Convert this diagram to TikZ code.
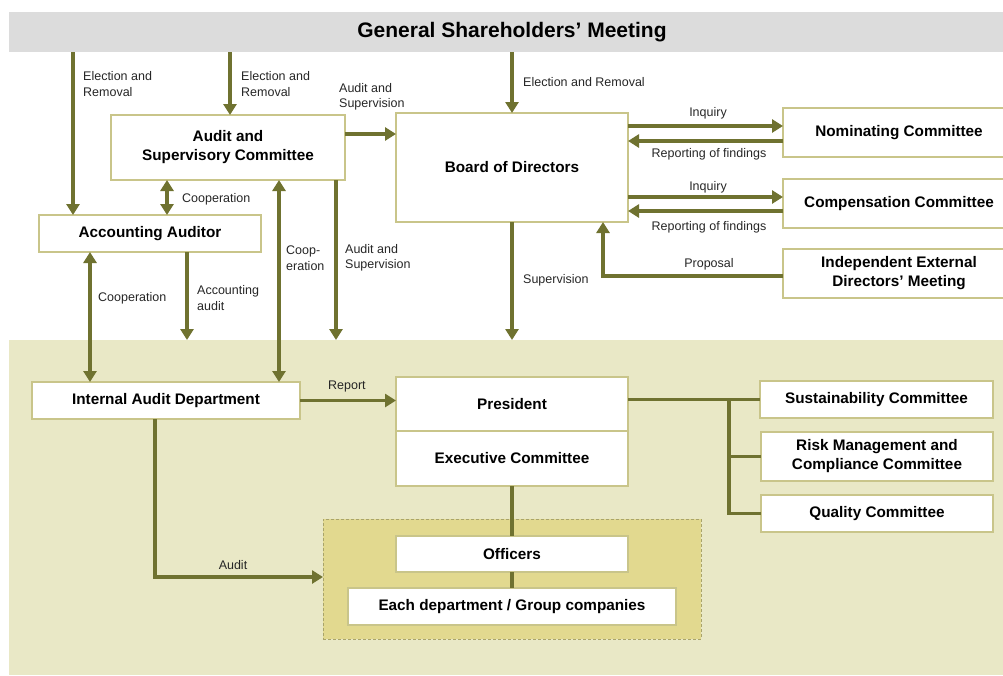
\documentclass[tikz,border=0pt]{standalone}
\usepackage{fontspec}
\setmainfont{Liberation Sans}
\usetikzlibrary{arrows.meta}
\definecolor{topgray}{HTML}{DCDCDC}
\definecolor{lowband}{HTML}{E9E8C6}
\definecolor{grpfill}{HTML}{E2D98F}
\definecolor{grpline}{HTML}{A9A46A}
\definecolor{boxline}{HTML}{C9C58A}
\definecolor{arrc}{HTML}{6F7230}
\tikzset{
  box/.style={draw=boxline, line width=1.3pt, fill=white, inner sep=0pt, outer sep=0pt,
    anchor=north west, align=center, font=\fontsize{15.3}{19}\selectfont\bfseries},
  lbl/.style={inner sep=0pt, align=left, font=\fontsize{12.5}{15.5}\selectfont, text=black!85},
  conn/.style={draw=arrc, line width=3.3pt},
  arr/.style={conn, -{Triangle[length=11pt,width=13pt]}},
  darr/.style={conn, {Triangle[length=11pt,width=13pt]}-{Triangle[length=11pt,width=13pt]}},
}
\begin{document}
\begin{tikzpicture}[x=1pt,y=-1pt]
\path[use as bounding box] (0,0) rectangle (1003,675);
% bands
\node[fill=topgray, inner sep=0pt, outer sep=0pt, anchor=north west, minimum width=1000pt, minimum height=40pt] (gsm) at (9,12) {};
\node[font=\fontsize{21}{24}\selectfont\bfseries, inner sep=0pt] (gsmt) at (512,32) {General Shareholders\symbol{39} Meeting};
\node[fill=lowband, inner sep=0pt, outer sep=0pt, anchor=north west, minimum width=1000pt, minimum height=335pt] (lower) at (9,340) {};
\node[fill=grpfill, draw=grpline, line width=1pt, dash pattern=on 3pt off 2pt, inner sep=0pt, outer sep=0pt, anchor=north west, minimum width=378pt, minimum height=120pt] (grp) at (323,519) {};
% boxes
\node[box, minimum width=234pt, minimum height=65pt] (asc) at (111,115) {Audit and\\Supervisory Committee};
\node[box, minimum width=222pt, minimum height=37pt] (aa) at (39,215) {Accounting Auditor};
\node[box, minimum width=232pt, minimum height=109pt] (board) at (396,113) {Board of Directors};
\node[box, minimum width=232pt, minimum height=49pt] (nom) at (783,108) {Nominating Committee};
\node[box, minimum width=232pt, minimum height=49pt] (comp) at (783,179) {Compensation Committee};
\node[box, minimum width=232pt, minimum height=49pt] (ied) at (783,249) {Independent External\\Directors’ Meeting};
\node[box, minimum width=268pt, minimum height=37pt] (iad) at (32,382) {Internal Audit Department};
\node[box, minimum width=232pt, minimum height=54pt] (pres) at (396,377) {President};
\node[box, minimum width=232pt, minimum height=55pt] (exec) at (396,431) {Executive Committee};
\node[box, minimum width=232pt, minimum height=36pt] (off) at (396,536) {Officers};
\node[box, minimum width=328pt, minimum height=37pt] (dept) at (348,588) {Each department / Group companies};
\node[box, minimum width=233pt, minimum height=37pt] (sus) at (760,381) {Sustainability Committee};
\node[box, minimum width=232pt, minimum height=49pt] (risk) at (761,432) {Risk Management and\\Compliance Committee};
\node[box, minimum width=232pt, minimum height=37pt] (qual) at (761,495) {Quality Committee};
% helper coordinates
\coordinate (cA) at (73,0);
\coordinate (cB) at (230,0);
\coordinate (cD) at (167,0);
\coordinate (cE) at (279,0);
\coordinate (cF) at (336,0);
\coordinate (cG) at (187,0);
\coordinate (cH) at (90,0);
\coordinate (cI) at (603,0);
\coordinate (cJ) at (155,0);
\coordinate (cK) at (729,0);
\coordinate (y126) at (0,126);
\coordinate (y134) at (0,134);
\coordinate (y141) at (0,141);
\coordinate (y197) at (0,197);
\coordinate (y211) at (0,211);
\coordinate (y276) at (0,276);
\coordinate (y577) at (0,577);
% connectors
\draw[arr] (gsm.south -| cA) -- (aa.north -| cA);
\draw[arr] (gsm.south -| cB) -- (asc.north -| cB);
\draw[arr] (gsm.south -| board.north) -- (board.north);
\draw[arr] (asc.east |- y134) -- (board.west |- y134);
\draw[darr] (asc.south -| cD) -- (aa.north -| cD);
\draw[darr] (iad.north -| cE) -- (asc.south -| cE);
\draw[arr] (asc.south -| cF) -- (lower.north -| cF);
\draw[arr] (aa.south -| cG) -- (lower.north -| cG);
\draw[darr] (iad.north -| cH) -- (aa.south -| cH);
\draw[arr] (board.south) -- (lower.north -| board.south);
\draw[arr] (board.east |- y126) -- (nom.west |- y126);
\draw[arr] (nom.west |- y141) -- (board.east |- y141);
\draw[arr] (board.east |- y197) -- (comp.west |- y197);
\draw[arr] (comp.west |- y211) -- (board.east |- y211);
\draw[arr] (ied.west |- y276) -- (cI |- y276) -- (board.south -| cI);
\draw[arr] (iad.east) -- (pres.west |- iad.east);
\draw[arr] (iad.south -| cJ) -- (cJ |- y577) -- (grp.west |- y577);
\draw[conn] (pres.east |- sus.west) -- (sus.west);
\draw[conn] (cK |- sus.west) -- (cK |- qual.west) -- (qual.west);
\draw[conn] (cK |- risk.west) -- (risk.west);
\draw[conn] (exec.south) -- (off.north);
\draw[conn] (off.south) -- (dept.north -| off.south);
% labels
\node[lbl, anchor=west] (l1) at (83,84) {Election and\\Removal};
\node[lbl, anchor=west] (l2) at (241,84) {Election and\\Removal};
\node[lbl, anchor=west] (l3) at (339,97) {Audit and\\Supervision};
\node[lbl, anchor=west] (l4) at (523,82) {Election and Removal};
\node[lbl, anchor=west] (l5) at (182,199) {Cooperation};
\node[lbl, anchor=west] (l6) at (286,258) {Coop-\\eration};
\node[lbl, anchor=west] (l7) at (345,258) {Audit and\\Supervision};
\node[lbl, anchor=west] (l8) at (98,298) {Cooperation};
\node[lbl, anchor=west] (l9) at (197,298) {Accounting\\audit};
\node[lbl, anchor=west] (l10) at (523,280) {Supervision};
\node[lbl] (l11) at (708,113) {Inquiry};
\node[lbl] (l12) at (709,154) {Reporting of findings};
\node[lbl] (l13) at (708,187) {Inquiry};
\node[lbl] (l14) at (709,227) {Reporting of findings};
\node[lbl] (l15) at (709,264) {Proposal};
\node[lbl, anchor=west] (l16) at (328,386) {Report};
\node[lbl] (l17) at (233,565) {Audit};
\end{tikzpicture}
\end{document}
